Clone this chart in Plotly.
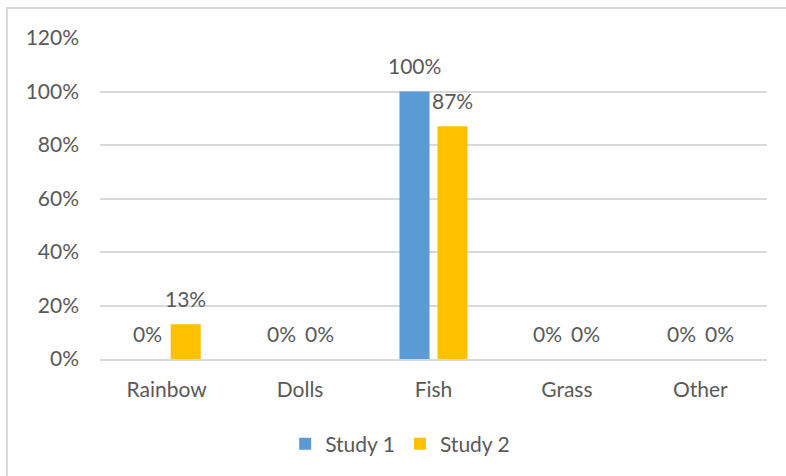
import plotly.graph_objects as go

categories = ["Rainbow", "Dolls", "Fish", "Grass", "Other"]
study1 = [0.0, 0.0, 1.00, 0.0, 0.0]
study2 = [0.13, 0.0, 0.87, 0.0, 0.0]
series_names = ["Study 1", "Study 2"]
colors = ["#5B9BD5", "#FFC000"]
y_ticks = [0, 0.2, 0.4, 0.6, 0.8, 1.0, 1.2]

FONT = "Lato"
TEXT = "#595959"
GRID = "#D9D9D9"
SIZE = 21

fig = go.Figure()
for name, vals, col in zip(series_names, [study1, study2], colors):
    fig.add_trace(go.Bar(name=name, x=categories, y=vals, marker_color=col,
                         marker_line_width=0))

# value labels above each bar
offsets = [-19, 19]
annotations = []
for vals, dx in zip([study1, study2], offsets):
    for c, v in zip(categories, vals):
        annotations.append(dict(x=c, y=v, xref="x", yref="y", text=f"{v:.0%}",
                                showarrow=False, xshift=dx, yshift=26,
                                font=dict(family=FONT, size=SIZE, color=TEXT)))

fig.update_layout(
    width=786, height=476,
    margin=dict(l=100, r=19, t=38, b=117),
    paper_bgcolor="white", plot_bgcolor="white",
    barmode="group", bargap=0.43, bargroupgap=0.21,
    font=dict(family=FONT, size=SIZE, color=TEXT),
    showlegend=True,
    legend=dict(orientation="h", x=0.45, xanchor="center", y=-0.265, yanchor="middle",
                font=dict(family=FONT, size=SIZE, color=TEXT), itemwidth=30,
                traceorder="normal"),
    annotations=annotations,
    shapes=[dict(type="rect", xref="paper", yref="paper",
                 x0=-0.1394, x1=1.08, y0=-0.45, y1=1.0935,
                 line=dict(color=GRID, width=2), layer="below")],
)
fig.update_xaxes(showgrid=False, showline=True, linecolor=GRID, linewidth=2,
                 ticks="", ticklabelstandoff=11,
                 tickfont=dict(family=FONT, size=SIZE, color=TEXT))
fig.update_yaxes(range=[0, 1.2], tickvals=y_ticks, tickformat=".0%",
                 showgrid=True, gridcolor=GRID, gridwidth=2, zeroline=False,
                 showline=False, ticks="", ticklabelstandoff=20,
                 tickfont=dict(family=FONT, size=SIZE, color=TEXT))

fig.write_html("out.html")
